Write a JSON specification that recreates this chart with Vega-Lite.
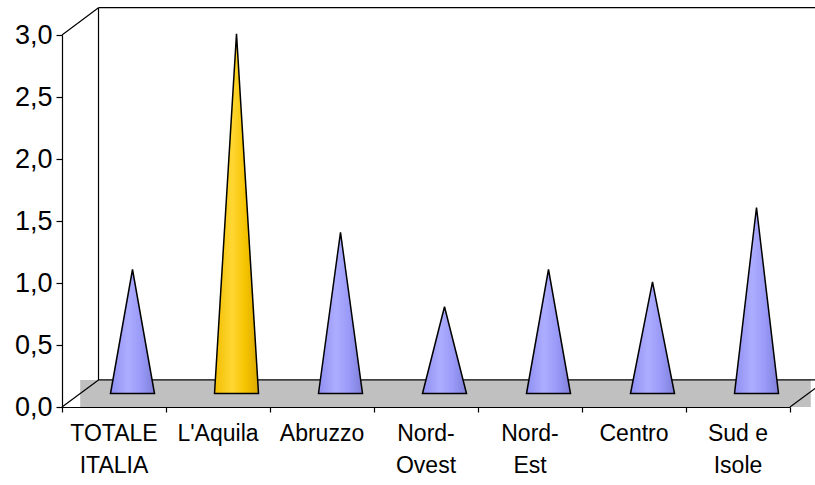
{
  "$schema": "https://vega.github.io/schema/vega-lite/v6.json",
  "width": 728,
  "height": 372,
  "autosize": "none",
  "padding": {"left": 62, "top": 35, "right": 25, "bottom": 78},
  "background": "white",
  "config": {
    "view": {"stroke": null},
    "font": "Liberation Sans",
    "axis": {"domainColor": "black", "tickColor": "black", "labelColor": "black", "grid": false, "labelFont": "Liberation Sans", "domainWidth": 1.2, "tickWidth": 1.2}
  },
  "data": {
    "values": [
      {"region": "TOTALE ITALIA", "value": 1.0},
      {"region": "L'Aquila", "value": 2.9},
      {"region": "Abruzzo", "value": 1.3},
      {"region": "Nord-Ovest", "value": 0.7},
      {"region": "Nord-Est", "value": 1.0},
      {"region": "Centro", "value": 0.9},
      {"region": "Sud e Isole", "value": 1.5}
    ]
  },
  "resolve": {"scale": {"x": "independent"}, "axis": {"x": "independent"}},
  "layer": [
    {
      "data": {"values": [{}]},
      "mark": {"type": "rect", "fill": "#C0C0C0"},
      "encoding": {
        "x": {"datum": 0.175, "type": "quantitative", "scale": {"domain": [0, 7], "nice": false, "zero": false},
              "axis": {"values": [0, 1, 2, 3, 4, 5, 6, 7], "labels": false, "domain": false, "ticks": true, "tickSize": 5, "title": null, "orient": "bottom"}},
        "x2": {"datum": 7.2},
        "y": {"datum": 0, "type": "quantitative", "scale": {"domain": [0, 3], "nice": false}},
        "y2": {"datum": 0.218}
      }
    },
    {
      "data": {"values": [{}]},
      "mark": {"type": "rule", "color": "black", "strokeWidth": 1.2},
      "encoding": {
        "x": {"datum": 0, "type": "quantitative", "scale": {"domain": [0, 7], "nice": false, "zero": false}, "axis": null},
        "x2": {"datum": 0.351},
        "y": {"datum": 0, "type": "quantitative", "scale": {"domain": [0, 3], "nice": false}},
        "y2": {"datum": 0.218}
      }
    },
    {
      "data": {"values": [{}]},
      "mark": {"type": "rule", "color": "black", "strokeWidth": 1.2},
      "encoding": {
        "x": {"datum": 0.351, "type": "quantitative", "scale": {"domain": [0, 7], "nice": false, "zero": false}, "axis": null},
        "x2": {"datum": 7.6},
        "y": {"datum": 0.218, "type": "quantitative", "scale": {"domain": [0, 3], "nice": false}},
        "y2": {"datum": 0.218}
      }
    },
    {
      "data": {"values": [{}]},
      "mark": {"type": "rule", "color": "black", "strokeWidth": 1.2},
      "encoding": {
        "x": {"datum": 7, "type": "quantitative", "scale": {"domain": [0, 7], "nice": false, "zero": false}, "axis": null},
        "x2": {"datum": 7.351},
        "y": {"datum": 0, "type": "quantitative", "scale": {"domain": [0, 3], "nice": false}},
        "y2": {"datum": 0.218}
      }
    },
    {
      "data": {"values": [{}]},
      "mark": {"type": "rule", "color": "black", "strokeWidth": 1.2},
      "encoding": {
        "x": {"datum": 0.351, "type": "quantitative", "scale": {"domain": [0, 7], "nice": false, "zero": false}, "axis": null},
        "y": {"datum": 0.218, "type": "quantitative", "scale": {"domain": [0, 3], "nice": false}},
        "y2": {"datum": 3.22}
      }
    },
    {
      "data": {"values": [{}]},
      "mark": {"type": "rule", "color": "black", "strokeWidth": 1.2},
      "encoding": {
        "x": {"datum": 0, "type": "quantitative", "scale": {"domain": [0, 7], "nice": false, "zero": false}, "axis": null},
        "x2": {"datum": 0.351},
        "y": {"datum": 3, "type": "quantitative", "scale": {"domain": [0, 3], "nice": false}},
        "y2": {"datum": 3.22}
      }
    },
    {
      "data": {"values": [{}]},
      "mark": {"type": "rule", "color": "black", "strokeWidth": 1.2},
      "encoding": {
        "x": {"datum": 0.351, "type": "quantitative", "scale": {"domain": [0, 7], "nice": false, "zero": false}, "axis": null},
        "x2": {"datum": 7.6},
        "y": {"datum": 3.22, "type": "quantitative", "scale": {"domain": [0, 3], "nice": false}},
        "y2": {"datum": 3.22}
      }
    },
    {
      "transform": [
        {"fold": ["value"], "as": ["part", "v"]},
        {"impute": "v", "key": "part", "keyvals": ["base_l", "value", "zbase_r"], "groupby": ["region"], "value": 0}
      ],
      "mark": {"type": "area", "stroke": "black", "strokeWidth": 1.5, "strokeJoin": "miter", "yOffset": -13.5, "y2Offset": -13.5},
      "encoding": {
        "x": {
          "field": "region", "type": "nominal", "sort": {"field": "part"},
          "scale": {"domain": ["TOTALE ITALIA", "L'Aquila", "Abruzzo", "Nord-Ovest", "Nord-Est", "Centro", "Sud e Isole"], "paddingInner": 0, "paddingOuter": 0},
          "axis": {
            "orient": "bottom", "title": null, "ticks": false, "domain": true, "labelAngle": 0, "labelFontSize": 23,
            "labelPadding": 15, "labelLineHeight": 32, "labelBaseline": "top",
            "labelExpr": "datum.value === 'TOTALE ITALIA' ? ['TOTALE', 'ITALIA'] : datum.value === 'Nord-Ovest' ? ['Nord-', 'Ovest'] : datum.value === 'Nord-Est' ? ['Nord-', 'Est'] : datum.value === 'Sud e Isole' ? ['Sud e', 'Isole'] : datum.value"
          }
        },
        "xOffset": {"field": "part", "type": "nominal", "sort": ["base_l", "value", "zbase_r"], "scale": {"type": "point", "padding": 0, "range": [48.5, 92.5]}},
        "y": {
          "field": "v", "type": "quantitative", "stack": null,
          "scale": {"domain": [0, 3], "nice": false},
          "axis": {"title": null, "values": [0, 0.5, 1, 1.5, 2, 2.5, 3], "labelExpr": "replace(format(datum.value, '.1f'), '.', ',')", "labelFontSize": 27, "tickSize": 6, "labelPadding": 4}
        },
        "y2": {"datum": 0},
        "detail": {"field": "region"},
        "fill": {
          "condition": {
            "test": "datum.region === \"L'Aquila\"",
            "value": {"gradient": "linear", "x1": 0, "y1": 0, "x2": 1, "y2": 0, "stops": [
              {"offset": 0, "color": "#F2BE00"}, {"offset": 0.4, "color": "#FFD633"}, {"offset": 0.7, "color": "#F5C400"}, {"offset": 1, "color": "#D9A800"}]}
          },
          "value": {"gradient": "linear", "x1": 0, "y1": 0, "x2": 1, "y2": 0, "stops": [
            {"offset": 0, "color": "#8F8FF2"}, {"offset": 0.4, "color": "#ADADFF"}, {"offset": 0.7, "color": "#9999F8"}, {"offset": 1, "color": "#7F7FD9"}]}
        }
      }
    }
  ]
}
